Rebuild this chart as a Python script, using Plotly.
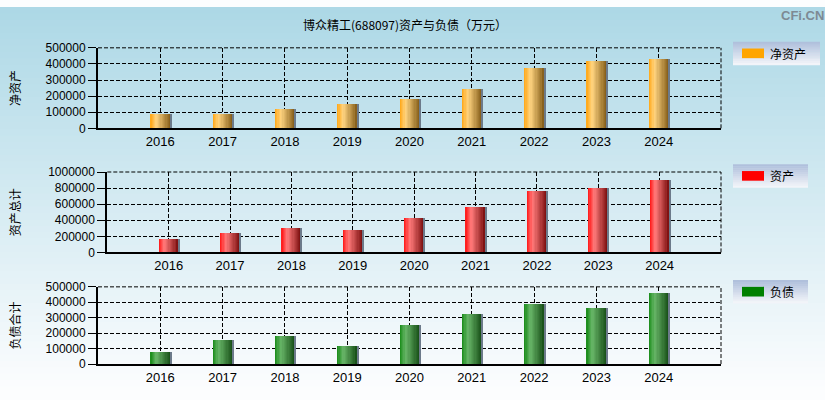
import plotly.graph_objects as go

years = [2016, 2017, 2018, 2019, 2020, 2021, 2022, 2023, 2024]
net_assets = [91000, 90000, 121000, 151000, 181000, 247000, 378000, 420000, 432000]
total_assets = [168000, 240000, 300000, 276000, 432000, 564000, 768000, 796000, 900000]
liabilities = [81000, 157000, 182000, 119000, 257000, 326000, 389000, 364000, 464000]

W, H = 825, 400
tick_font = dict(family="Liberation Sans, Arial", size=12, color="#000")
cjk = "Noto Sans CJK SC, Noto Sans, sans-serif"
dash = "4px,2px"


def mix(stops, t):
    for (t0, c0), (t1, c1) in zip(stops, stops[1:]):
        if t <= t1:
            f = (t - t0) / (t1 - t0)
            return "rgb(%d,%d,%d)" % tuple(round(a + (b - a) * f) for a, b in zip(c0, c1))
    return "rgb(%d,%d,%d)" % stops[-1][1]


orange = [(0, (255, 166, 20)), (0.3, (255, 212, 128)), (1, (132, 92, 24))]
red = [(0, (255, 20, 20)), (0.3, (255, 122, 122)), (1, (122, 14, 14))]
green = [(0, (22, 138, 22)), (0.3, (104, 182, 104)), (1, (22, 78, 22))]

# values, axis suffix, y title, legend label, bar colours, swatch colour, ymax,
# x domain (px), y domain (px), legend box (px)
panels = [
    (net_assets, "", "净资产", "净资产", orange, "rgb(255,165,0)", 500000,
     (98, 721), (42.3, 125.7), (733, 820, 36, 60)),
    (total_assets, "2", "资产总计", "资产", red, "rgb(255,0,0)", 1000000,
     (107.3, 721), (171, 254.3), (733, 808, 163, 187)),
    (liabilities, "3", "负债合计", "负债", green, "rgb(0,128,0)", 500000,
     (98, 721), (290, 370), (733, 808, 283, 307)),
]

fig = go.Figure()
shapes = []
annotations = []


def note(text, x, y, **kw):
    d = dict(text=text, x=x / W, y=1 - y / H, xref="paper", yref="paper",
             xanchor="center", yanchor="middle", showarrow=False,
             font=dict(family=cjk, size=12, color="#000"))
    d.update(kw)
    annotations.append(d)


# page background: light blue fading to white
top, bot = (173, 216, 230), (252, 253, 254)
n = 60
for i in range(n):
    t = i / (n - 1)
    c = "rgb(%d,%d,%d)" % tuple(round(a + (b - a) * t) for a, b in zip(top, bot))
    shapes.append(dict(type="rect", xref="paper", yref="paper", x0=0, x1=1,
                       y0=1 - (i + 1) / n - 0.002, y1=1 - i / n, fillcolor=c,
                       line_width=0, layer="below"))

bw = 0.32
slices = 16
axes = {}
for vals, sfx, ytitle, label, stops, swatch, ymax, xd, yd, box in panels:
    xa, ya = "x" + sfx, "y" + sfx
    for i in range(slices):
        t = (i + 0.5) / slices
        fig.add_trace(go.Bar(
            x=years, y=vals, xaxis=xa, yaxis=ya,
            width=bw / slices * (1.7 if i < slices - 1 else 1), offset=-bw / 2 + i * bw / slices,
            marker=dict(color=mix(stops, t), line_width=0),
            showlegend=False, hoverinfo="skip"))
    # thin grey shadow on the right side of each bar
    fig.add_trace(go.Bar(
        x=years, y=vals, xaxis=xa, yaxis=ya, width=0.018, offset=bw / 2,
        marker=dict(color="rgb(108,122,138)", line_width=0),
        showlegend=False, hoverinfo="skip"))

    axes["xaxis" + sfx] = dict(
        domain=[xd[0] / W, xd[1] / W], range=[2015, 2025], anchor=ya,
        tickvals=list(range(2015, 2026)), ticktext=[""] + [str(y) for y in years] + [""],
        showgrid=True, gridcolor="black", griddash=dash, gridwidth=1,
        showline=True, linecolor="black", linewidth=2, zeroline=False,
        ticks="", tickfont=dict(tick_font, size=13))
    axes["yaxis" + sfx] = dict(
        domain=[1 - yd[1] / H, 1 - yd[0] / H], range=[0, ymax], dtick=ymax / 5,
        tickformat="d", anchor=xa, showgrid=True, gridcolor="black",
        griddash=dash, gridwidth=1, showline=True, linecolor="black",
        linewidth=2, zeroline=False, ticks="outside", ticklen=8,
        tickcolor="black", tickfont=tick_font)

    # dashed top and right border of the plot area
    dref = "x" + sfx + " domain", "y" + sfx + " domain"
    shapes.append(dict(type="line", xref=dref[0], yref=dref[1], x0=0, x1=1, y0=1, y1=1,
                       line=dict(color="black", width=1, dash=dash)))
    shapes.append(dict(type="line", xref=dref[0], yref=dref[1], x0=1, x1=1, y0=0, y1=1,
                       line=dict(color="black", width=1, dash=dash)))

    note(ytitle, 14, (yd[0] + yd[1]) / 2, textangle=-90)

    # legend box with a vertical gradient
    bx0, bx1, by0, by1 = box
    m = 12
    for j in range(m):
        c = "rgb(%d,%d,%d)" % tuple(round(a + (b - a) * j / (m - 1))
                                    for a, b in zip((176, 192, 220), (242, 244, 249)))
        shapes.append(dict(type="rect", xref="paper", yref="paper",
                           x0=bx0 / W, x1=bx1 / W,
                           y0=1 - (by0 + (by1 - by0) * (j + 1) / m + 0.3) / H,
                           y1=1 - (by0 + (by1 - by0) * j / m) / H,
                           fillcolor=c, line_width=0))
    cy = (by0 + by1) / 2
    shapes.append(dict(type="rect", xref="paper", yref="paper",
                       x0=742 / W, x1=764 / W, y0=1 - (cy + 5) / H, y1=1 - (cy - 5) / H,
                       fillcolor=swatch, line_width=0))
    note(label, 768, cy, xanchor="left")

note("博众精工(688097)资产与负债（万元）", 405, 18)
note("<b>CFi.CN</b>", 802, 9,
     font=dict(family="Liberation Sans, Arial", size=13, color="rgb(125,138,148)"))

fig.update_layout(
    width=W, height=H, margin=dict(l=0, r=0, t=0, b=0),
    paper_bgcolor="rgb(252,253,254)", plot_bgcolor="rgba(0,0,0,0)",
    barmode="overlay", bargap=0, showlegend=False,
    shapes=shapes, annotations=annotations, **axes)

fig.write_html("out.html", config={"displayModeBar": False},
               post_script="document.body.style.margin='0';document.body.style.overflow='hidden';")
